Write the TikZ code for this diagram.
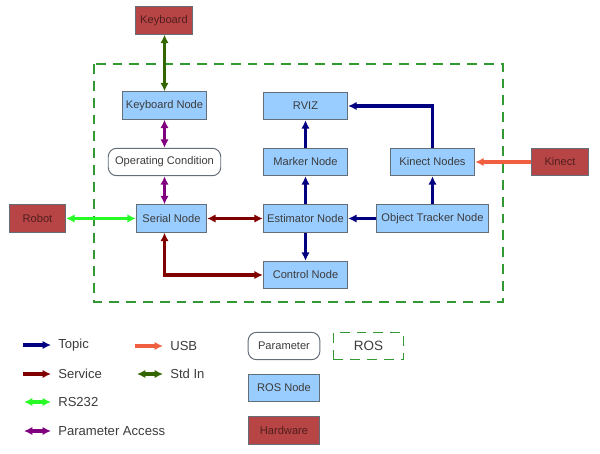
\documentclass[tikz,border=0pt]{standalone}
\usepackage{fontspec}
\setmainfont{Liberation Sans}
\usepackage{tikz}
\usetikzlibrary{arrows.meta}
\definecolor{topicc}{RGB}{0,0,128}
\definecolor{servicec}{RGB}{128,0,0}
\definecolor{rsc}{RGB}{40,250,40}
\definecolor{paramc}{RGB}{128,0,128}
\definecolor{usbc}{RGB}{240,96,64}
\definecolor{stdc}{RGB}{51,102,0}
\definecolor{rosg}{RGB}{51,153,51}
\definecolor{nodefill}{RGB}{153,204,255}
\definecolor{nodedraw}{RGB}{100,110,120}
\definecolor{hwfill}{RGB}{184,69,69}
\definecolor{hwtext}{RGB}{80,30,30}
\definecolor{txtc}{RGB}{60,60,60}

\begin{document}
\begin{tikzpicture}[
    x=0.025cm, y=-0.025cm,
    tip/.style={-{Latex[length=6pt,width=6pt]}},
    twotip/.style={{Latex[length=6pt,width=6pt]}-{Latex[length=6pt,width=6pt]}},
    topic/.style={tip,line width=2.4pt,topicc},
    service/.style={twotip,line width=2.4pt,servicec},
    rstwo/.style={twotip,line width=2.4pt,rsc},
    paccess/.style={twotip,line width=2.4pt,paramc},
    usb/.style={tip,line width=2.4pt,usbc},
    stdin/.style={twotip,line width=2.4pt,stdc},
    rosnode/.style={draw=nodedraw,fill=nodefill,text=txtc,line width=0.7pt,
      minimum height=19.5pt,inner sep=0pt,font=\fontsize{7.9}{9}\selectfont},
    hardware/.style={rosnode,fill=hwfill,text=hwtext},
    param/.style={rosnode,fill=white,rounded corners=6pt},
    rosarea/.style={draw=rosg,line width=1pt,dash pattern=on 7pt off 5pt},
    legend/.style={anchor=west,inner xsep=5pt,inner ysep=1pt,text=txtc,font=\fontsize{9.3}{11}\selectfont}
    ]
    \useasboundingbox (0,0) rectangle (600,454);
    \draw[rosarea] (94,64) rectangle (503,302);
    \node[hardware,minimum width=40pt] (keyboard) at (164,20.5) {Keyboard};
    \node[rosnode,minimum width=60pt] (keyboardnode) at (164.5,105.5) {Keyboard Node};
    \node[param,minimum width=80pt] (opcond) at (164.5,162) {Operating Condition};
    \node[rosnode,minimum width=50pt] (serial) at (171.5,218.5) {Serial Node};
    \node[hardware,minimum width=40pt] (robot) at (37.5,218.5) {Robot};
    \node[rosnode,minimum width=60pt] (estimator) at (305.5,218.5) {Estimator Node};
    \node[rosnode,minimum width=60pt] (control) at (305.5,275) {Control Node};
    \node[rosnode,minimum width=60pt] (marker) at (305.5,162) {Marker Node};
    \node[rosnode,minimum width=60pt] (rviz) at (305.5,106) {RVIZ};
    \node[rosnode,minimum width=60pt] (kinectnodes) at (432.5,162) {Kinect Nodes};
    \node[rosnode,minimum width=80pt] (tracker) at (432.5,218.5) {Object Tracker Node};
    \node[hardware,minimum width=40pt] (kinect) at (560,162) {Kinect};
    \draw[stdin] (keyboard.south -| keyboardnode) -- (keyboardnode.north);
    \draw[paccess] (keyboardnode) -- (opcond);
    \draw[paccess] (opcond) -- (opcond |- serial.north);
    \draw[rstwo] (robot) -- (serial);
    \draw[service] (serial) -- (estimator);
    \draw[service] (serial.south -| opcond) |- (control.west);
    \draw[topic] (estimator) -- (marker);
    \draw[topic] (marker) -- (rviz);
    \draw[topic] (estimator) -- (control);
    \draw[topic] (tracker) -- (estimator);
    \draw[topic] (tracker) -- (kinectnodes);
    \draw[topic] (kinectnodes.north) |- (rviz.east);
    \draw[usb] (kinect) -- (kinectnodes);
    \coordinate (lgtopic) at (23,345);
    \coordinate (lgservice) at (23,374);
    \coordinate (lgrs) at (24,402);
    \coordinate (lgparam) at (24,431);
    \coordinate (lgusb) at (135,346);
    \coordinate (lgstd) at (137,374);
    \node[legend] (topictext) at (51,345) {Topic};
    \node[legend] (servicetext) at (51,374) {Service};
    \node[legend] (rstext) at (51,402) {RS232};
    \node[legend] (paramtext) at (51,431) {Parameter Access};
    \node[legend] (usbtext) at (163,346) {USB};
    \node[legend] (stdtext) at (163,374) {Std In};
    \draw[topic] (lgtopic) -- (topictext.west);
    \draw[tip,line width=2.4pt,servicec] (lgservice) -- (servicetext.west);
    \draw[rstwo] (lgrs) -- (rstext.west);
    \draw[paccess] (lgparam) -- (paramtext.west);
    \draw[usb] (lgusb) -- (usbtext.west);
    \draw[stdin] (lgstd) -- (stdtext.west);
    \node[param,minimum width=51pt] (lgparambox) at (284,346) {Parameter};
    \node[rosarea,minimum width=50pt,minimum height=19.5pt,text=txtc,font=\fontsize{9.6}{11}\selectfont] (lgros) at (368.5,346) {ROS};
    \node[rosnode,minimum width=51pt] (lgrosnode) at (284,388) {ROS Node};
    \node[hardware,minimum width=51pt] (lghardware) at (284,430.5) {Hardware};
  \end{tikzpicture}
\end{document}
